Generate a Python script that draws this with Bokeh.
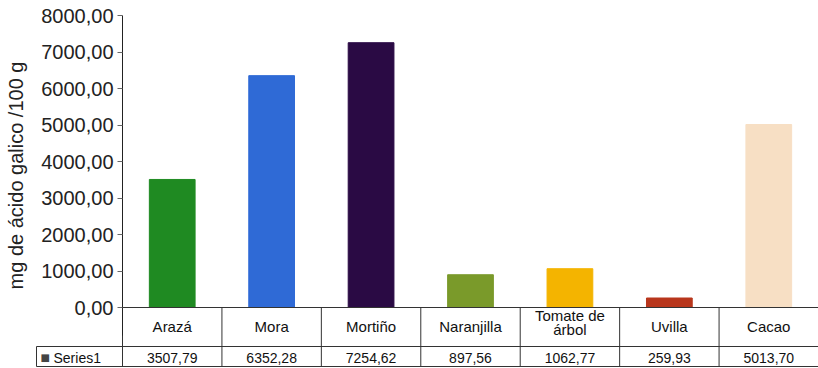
from bokeh.plotting import figure
from bokeh.models import Range1d, FixedTicker, ColumnDataSource
from bokeh.core.properties import value
from bokeh.embed import file_html
from bokeh.resources import INLINE

# ---- data ----
categories = ["Arazá", "Mora", "Mortiño", "Naranjilla", "Tomate de\nárbol", "Uvilla", "Cacao"]
values = [3507.79, 6352.28, 7254.62, 897.56, 1062.77, 259.93, 5013.70]
bar_colors = ["#1f8a22", "#2f6ad6", "#2a0a44", "#7a9a2a", "#f4b400", "#b8361c", "#f7dfc4"]
y_ticks = [0, 1000, 2000, 3000, 4000, 5000, 6000, 7000, 8000]
series_name = "Series1"
y_label = "mg de ácido galico /100 g"


def fmt(v):
    return f"{v:.2f}".replace(".", ",")


FONT = "Liberation Sans"
LINE = "#333333"
TXT = "#111111"

# ---- layout constants (canvas pixels) ----
W, H = 818, 368
AXIS_X = 122          # where the value axis sits
TOP_Y = 15            # pixel of the top tick
ZERO_Y = 307          # pixel of the zero line
ROW1_Y = 326          # category row centre
ROW2_TOP, ROW2_Y, ROW2_BOT = 346, 357, 366
CELL_LEFT = 36
n = len(categories)

px_per_unit = (ZERO_Y - TOP_Y) / y_ticks[-1]
y_start = -(H - ZERO_Y) / px_per_unit
y_end = y_ticks[-1] + TOP_Y / px_per_unit
col_w = (W - AXIS_X) / n
x_start = -AXIS_X / col_w

xs = [i + 0.5 for i in range(n)]   # category centres on the x scale

p = figure(width=W, height=H,
           x_range=Range1d(x_start, n), y_range=Range1d(y_start, y_end),
           x_axis_location=None,
           output_backend="svg", toolbar_location=None,
           min_border_left=0, min_border_right=0,
           min_border_top=0, min_border_bottom=0)
p.extra_y_ranges = {"px": Range1d(H, 0)}
p.extra_x_ranges = {"px": Range1d(0, W)}
p.xgrid.visible = False
p.ygrid.visible = False
p.outline_line_color = None

ax = p.yaxis[0]
ax.fixed_location = 0
ax.bounds = (-767, y_ticks[-1])
ax.ticker = FixedTicker(ticks=y_ticks)
ax.major_label_overrides = {t: fmt(t) for t in y_ticks}
ax.major_label_text_font = FONT
ax.major_label_text_font_size = "20px"
ax.major_label_text_color = "#222222"
ax.major_label_standoff = 4
ax.major_tick_out = 5
ax.major_tick_in = 0
ax.major_tick_line_color = "#666666"
ax.minor_tick_line_color = None
ax.axis_line_color = "#222222"
ax.axis_label = y_label
ax.axis_label_text_font = FONT
ax.axis_label_text_font_size = "20px"
ax.axis_label_text_font_style = "normal"
ax.axis_label_text_color = "#222222"
ax.axis_label_standoff = 11

src = ColumnDataSource(dict(
    x=xs, cat=categories, val=values, color=bar_colors,
    label=[fmt(v) for v in values],
    ly=[ROW1_Y - 4 if "\n" in c else ROW1_Y for c in categories]))
p.vbar(x="x", top="val", width=0.46, color="color", source=src)

# table grid
p.segment(x0=[0], x1=[n], y0=[ZERO_Y], y1=[ZERO_Y], y_range_name="px",
          line_color=LINE, line_width=1)
p.segment(x0=[CELL_LEFT, CELL_LEFT], x1=[W, W], y0=[ROW2_TOP, ROW2_BOT],
          y1=[ROW2_TOP, ROW2_BOT], x_range_name="px", y_range_name="px",
          line_color=LINE, line_width=1)
p.segment(x0=list(range(0, n)), x1=list(range(0, n)),
          y0=[ZERO_Y] * n, y1=[ROW2_BOT] * n, y_range_name="px",
          line_color=LINE, line_width=1)
p.segment(x0=[CELL_LEFT], x1=[CELL_LEFT], y0=[ROW2_TOP], y1=[ROW2_BOT],
          x_range_name="px", y_range_name="px", line_color=LINE, line_width=1)

# category names
p.text(x="x", y="ly", text="cat", source=src, y_range_name="px",
       text_align="center", text_baseline="middle", text_font=value(FONT),
       text_font_size="15px", text_color=TXT, text_line_height=0.8)
# values
p.text(x="x", y=ROW2_Y, text="label", source=src, y_range_name="px",
       text_align="center", text_baseline="middle", text_font=value(FONT),
       text_font_size="14px", text_color=TXT)
# legend key cell
p.text(x=[40], y=[ROW2_Y], text=["■"], x_range_name="px", y_range_name="px",
       text_baseline="middle", text_font=value("DejaVu Sans"),
       text_font_size="10px", text_color="#444444")
p.text(x=[53], y=[ROW2_Y], text=[series_name], x_range_name="px", y_range_name="px",
       text_baseline="middle", text_font=value(FONT), text_font_size="14px",
       text_color=TXT)

open("out.html", "w").write(file_html(p, INLINE))
